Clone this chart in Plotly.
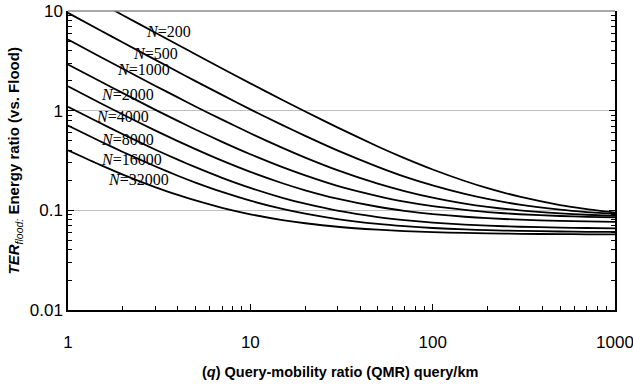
import math
import plotly.graph_objects as go

# Query-mobility ratio (x values)
q = [1, 1.5, 2, 3, 4, 5, 7, 10, 15, 20, 30, 50, 70, 100, 150, 200, 300, 500, 700, 1000]

# TER_flood values, one list per network size N
ter_200 = [18.08, 12.08, 9.08, 6.08, 4.58, 3.68, 2.65, 1.88, 1.28, 0.98, 0.68, 0.437, 0.334, 0.257, 0.197, 0.167, 0.137, 0.113, 0.103, 0.095]
ter_500 = [9.58, 6.42, 4.83, 3.25, 2.46, 1.98, 1.44, 1.03, 0.716, 0.558, 0.399, 0.273, 0.218, 0.178, 0.146, 0.130, 0.114, 0.1015, 0.0961, 0.092]
ter_1000 = [5.18, 3.48, 2.63, 1.78, 1.36, 1.10, 0.812, 0.593, 0.423, 0.338, 0.253, 0.185, 0.156, 0.134, 0.117, 0.1085, 0.100, 0.0932, 0.0903, 0.0881]
ter_2000 = [2.91, 1.97, 1.50, 1.025, 0.790, 0.648, 0.486, 0.365, 0.271, 0.224, 0.176, 0.139, 0.122, 0.110, 0.101, 0.096, 0.0914, 0.0877, 0.0860, 0.0848]
ter_4000 = [1.755, 1.195, 0.915, 0.635, 0.495, 0.411, 0.315, 0.243, 0.187, 0.159, 0.131, 0.1086, 0.099, 0.0918, 0.0862, 0.0834, 0.0806, 0.0784, 0.0774, 0.0767]
ter_8000 = [1.095, 0.752, 0.580, 0.408, 0.3225, 0.271, 0.212, 0.168, 0.1337, 0.1165, 0.0993, 0.0856, 0.0797, 0.0753, 0.0719, 0.0702, 0.0684, 0.0671, 0.0665, 0.0660]
ter_16000 = [0.710, 0.493, 0.385, 0.277, 0.2225, 0.190, 0.153, 0.125, 0.1033, 0.0925, 0.0817, 0.073, 0.0693, 0.0665, 0.0643, 0.0633, 0.0622, 0.0613, 0.0609, 0.0607]
ter_32000 = [0.400, 0.2857, 0.2285, 0.1713, 0.1428, 0.1256, 0.106, 0.0913, 0.0799, 0.0742, 0.0684, 0.0639, 0.0619, 0.0604, 0.0593, 0.0587, 0.0581, 0.0577, 0.0575, 0.0573]

series_names = ["200", "500", "1000", "2000", "4000", "8000", "16000", "32000"]
series_values = [ter_200, ter_500, ter_1000, ter_2000, ter_4000, ter_8000, ter_16000, ter_32000]

# label anchor positions (x in q, y in TER)
label_q = [3.58, 3.0, 2.58, 2.11, 1.98, 2.13, 2.22, 2.45]
label_ter = [6.3, 3.79, 2.56, 1.44, 0.865, 0.508, 0.32, 0.202]

x_ticks = [1, 10, 100, 1000]
x_tick_text = ["1", "10", "100", "1000"]
y_ticks = [0.01, 0.1, 1, 10]
y_tick_text = ["0.01", "0.1", "1", "10"]
minor_x = [m * d for d in (1, 10, 100) for m in range(2, 10)]
minor_y = [m * d for d in (0.01, 0.1, 1) for m in range(2, 10)]

fig = go.Figure()
for name, vals in zip(series_names, series_values):
    fig.add_trace(go.Scatter(x=q, y=vals, mode="lines", name="N=" + name,
                             line=dict(color="black", width=1.8, shape="spline", smoothing=0.6),
                             showlegend=False))

for name, lx, ly in zip(series_names, label_q, label_ter):
    fig.add_annotation(x=math.log10(lx), y=math.log10(ly),
                       xref="x", yref="y", text="<i>N</i>=" + name, showarrow=False,
                       borderpad=0,
                       font=dict(family="Liberation Serif", size=16, color="black"))

fig.add_annotation(x=0.497, y=-0.207, xref="paper", yref="paper",
                   text="<b>(<i>q</i>) Query-mobility ratio (QMR) query/km</b>",
                   showarrow=False, xanchor="center", yanchor="middle",
                   font=dict(family="Liberation Sans", size=14.5, color="black"))
fig.add_annotation(x=-0.097, y=0.5, xref="paper", yref="paper", textangle=-90,
                   text="<b><i>TER</i></b><sub><i>flood:</i></sub><b> Energy ratio (vs. Flood)</b>",
                   showarrow=False, xanchor="center", yanchor="middle",
                   font=dict(family="Liberation Sans", size=15, color="black"))

fig.add_shape(type="line", xref="paper", yref="paper", x0=0, x1=1, y0=1, y1=1,
              line=dict(color="#8c8c8c", width=1.5))

fig.update_xaxes(type="log", range=[0, 3], tickvals=x_ticks, ticktext=x_tick_text,
                 ticks="inside", ticklen=6, tickcolor="black", tickwidth=1,
                 showline=True, linecolor="black", linewidth=1.5, mirror=False,
                 showgrid=False, zeroline=False, ticklabelstandoff=16, automargin=False,
                 ticklabeloverflow="allow",
                 tickfont=dict(family="Liberation Sans", size=17, color="black"),
                 minor=dict(tickvals=minor_x, ticks="inside", ticklen=4, tickcolor="black", showgrid=False))
fig.update_yaxes(type="log", range=[-2, 1], tickvals=y_ticks, ticktext=y_tick_text,
                 ticks="inside", ticklen=6, tickcolor="black", tickwidth=1,
                 showline=True, linecolor="black", linewidth=1.5, mirror="ticks",
                 showgrid=True, gridcolor="#c0c0c0", gridwidth=1, zeroline=False, automargin=False,
                 ticklabeloverflow="allow",
                 tickfont=dict(family="Liberation Sans", size=17, color="black"),
                 minor=dict(tickvals=minor_y, ticks="inside", ticklen=4, tickcolor="black", showgrid=False))

fig.update_layout(width=633, height=388, margin=dict(l=68, r=18, t=11, b=78),
                  plot_bgcolor="white", paper_bgcolor="white")

fig.write_html("out.html", config={"displayModeBar": False},
               post_script="document.body.style.margin='0';document.body.style.overflow='hidden';")
